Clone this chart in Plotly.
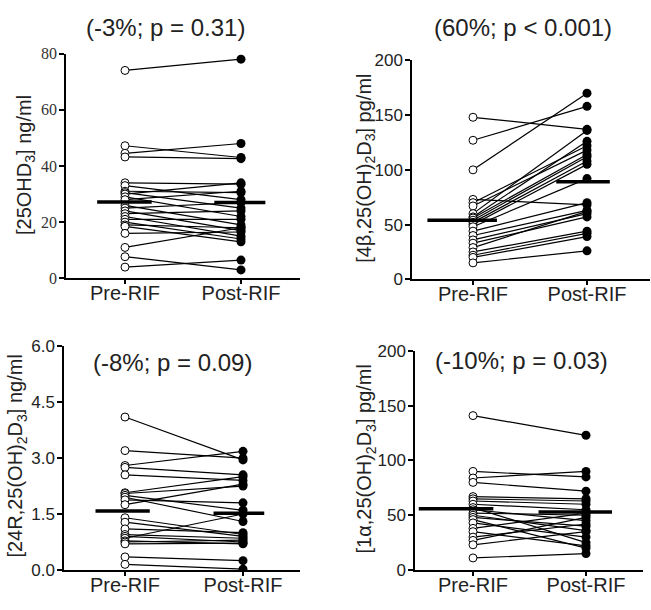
import plotly.graph_objects as go

W, H = 651, 610

categories = ["Pre-RIF", "Post-RIF"]

# Panel A: 25OHD3 (ng/ml)
a_pre = [74, 47.2, 44.5, 43.2, 34, 33, 31, 30.5, 30, 29, 28, 26, 25, 24, 23, 22, 21, 20, 19, 18.5, 16, 11, 7.7, 4]
a_post = [78, 43, 48, 42.6, 33.5, 28, 30.5, 25, 34, 22, 31, 19, 27, 17, 24, 15, 21, 14, 18, 13, 16.5, 18, 3, 6.5]
a_mean = [27.2, 27.0]
a_ticks = [0, 20, 40, 60, 80]

# Panel B: 4beta,25(OH)2D3 (pg/ml)
b_pre = [148, 127, 100, 73, 70, 67, 60, 57, 56, 54, 52, 50, 48, 44, 40, 36, 33, 29, 25, 22, 20, 15]
b_post = [137, 158, 170, 68, 122, 118, 136, 126, 114, 112, 108, 105, 92, 70, 63, 60, 57, 62, 44, 42, 39, 26]
b_mean = [54, 89]
b_ticks = [0, 50, 100, 150, 200]

# Panel C: 24R,25(OH)2D3 (ng/ml)
c_pre = [4.1, 3.2, 2.8, 2.75, 2.55, 2.07, 2.05, 2.0, 1.95, 1.88, 1.75, 1.4, 1.28, 1.1, 0.95, 0.9, 0.85, 0.78, 0.75, 0.7, 0.35, 0.15]
c_post = [2.95, 3.0, 3.18, 2.55, 2.4, 2.5, 2.25, 1.6, 1.3, 1.8, 2.3, 0.95, 0.9, 1.0, 0.85, 0.75, 1.5, 0.7, 0.8, 0.72, 0.25, 0.02]
c_mean = [1.58, 1.52]
c_ticks = [0.0, 1.5, 3.0, 4.5, 6.0]

# Panel D: 1alpha,25(OH)2D3 (pg/ml)
d_pre = [141, 90, 84, 80, 67, 65, 63, 60, 57, 55, 52, 50, 48, 46, 43, 38, 35, 30, 27, 23, 11]
d_post = [123, 85, 90, 72, 65, 63, 60, 55, 25, 45, 50, 36, 40, 20, 30, 52, 22, 42, 48, 35, 15]
d_mean = [56, 53]
d_ticks = [0, 50, 100, 150, 200]

titles = ["(-3%; p = 0.31)", "(60%; p < 0.001)", "(-8%; p = 0.09)", "(-10%; p = 0.03)"]
ytitles = ["[25OHD<sub>3</sub>] ng/ml",
           "[4β,25(OH)<sub>2</sub>D<sub>3</sub>] pg/ml",
           "[24R,25(OH)<sub>2</sub>D<sub>3</sub>] ng/ml",
           "[1α,25(OH)<sub>2</sub>D<sub>3</sub>] pg/ml"]

SANS = "Liberation Sans, Arial, sans-serif"
SERIF = "Liberation Serif, Times New Roman, serif"

panels = [
    dict(pre=a_pre, post=a_post, mean=a_mean, ticks=a_ticks, fmt=None, ymax=80,
         xl=66, xr=300, xp=(125, 241), yt=46, yb=278, bar=(0.24, 0.23, 0.23, 0.21),
         title_xy=(165, 19), ytitle_xy=(26, 161), tickfont=dict(family=SERIF, size=16, color="#333")),
    dict(pre=b_pre, post=b_post, mean=b_mean, ticks=b_ticks, fmt=None, ymax=200,
         xl=412, xr=650, xp=(473, 587), yt=53, yb=279, bar=(0.40, 0.21, 0.27, 0.20),
         title_xy=(523, 19), ytitle_xy=(366, 165), tickfont=dict(family=SANS, size=17, color="#222")),
    dict(pre=c_pre, post=c_post, mean=c_mean, ticks=c_ticks, fmt=".1f", ymax=6,
         xl=64, xr=300, xp=(125, 243), yt=348, yb=579, bar=(0.25, 0.21, 0.25, 0.18),
         title_xy=(173, 365), ytitle_xy=(17, 462), tickfont=dict(family=SANS, size=17, color="#222")),
    dict(pre=d_pre, post=d_post, mean=d_mean, ticks=d_ticks, fmt=None, ymax=200,
         xl=415, xr=643, xp=(473, 586), yt=353, yb=579, bar=(0.48, 0.18, 0.42, 0.23),
         title_xy=(521, 363), ytitle_xy=(366, 465), tickfont=dict(family=SANS, size=17, color="#222")),
]

fig = go.Figure()
layout = dict(width=W, height=H, margin=dict(l=0, r=0, t=0, b=0),
              paper_bgcolor="white", plot_bgcolor="white", showlegend=False,
              annotations=[])

for i, p in enumerate(panels, start=1):
    xa = "x" if i == 1 else f"x{i}"
    ya = "y" if i == 1 else f"y{i}"
    lx, ly = [], []
    for a, b in zip(p["pre"], p["post"]):
        lx += [0, 1, None]
        ly += [a, b, None]
    fig.add_trace(go.Scatter(x=lx, y=ly, mode="lines", line=dict(color="black", width=1.2),
                             xaxis=xa, yaxis=ya, hoverinfo="skip"))
    fig.add_trace(go.Scatter(x=[0] * len(p["pre"]), y=p["pre"], mode="markers",
                             marker=dict(symbol="circle", size=8, color="white",
                                         line=dict(color="black", width=1)),
                             xaxis=xa, yaxis=ya))
    fig.add_trace(go.Scatter(x=[1] * len(p["post"]), y=p["post"], mode="markers",
                             marker=dict(symbol="circle", size=9, color="black",
                                         line=dict(color="black", width=0)),
                             xaxis=xa, yaxis=ya))
    bl0, br0, bl1, br1 = p["bar"]
    fig.add_trace(go.Scatter(x=[0 - bl0, 0 + br0, None, 1 - bl1, 1 + br1],
                             y=[p["mean"][0], p["mean"][0], None, p["mean"][1], p["mean"][1]],
                             mode="lines", line=dict(color="black", width=3.5),
                             xaxis=xa, yaxis=ya, hoverinfo="skip"))

    unit = (p["xp"][1] - p["xp"][0])
    xmin = -(p["xp"][0] - p["xl"]) / unit
    xmax = 1 + (p["xr"] - p["xp"][1]) / unit
    xkey = "xaxis" if i == 1 else f"xaxis{i}"
    ykey = "yaxis" if i == 1 else f"yaxis{i}"
    layout[xkey] = dict(domain=[p["xl"] / W, p["xr"] / W], range=[xmin, xmax],
                        anchor=ya, tickvals=[0, 1], ticktext=categories,
                        showline=True, linecolor="black", linewidth=1.5,
                        ticks="outside", ticklen=4, tickwidth=1.5, tickcolor="black",
                        showgrid=False, zeroline=False, ticklabelstandoff=-8,
                        tickfont=dict(family=SANS, size=20, color="#222"))
    yd = dict(domain=[1 - p["yb"] / H, 1 - p["yt"] / H], range=[0, p["ymax"]],
              anchor=xa, tickvals=p["ticks"], showline=True, linecolor="black",
              linewidth=1.5, ticks="outside", ticklen=5, tickwidth=1.5, tickcolor="black",
              showgrid=False, zeroline=False, tickfont=p["tickfont"], ticklabelstandoff=-1)
    if p["fmt"]:
        yd["tickformat"] = p["fmt"]
    layout[ykey] = yd

    layout["annotations"].append(dict(
        text=titles[i - 1], x=p["title_xy"][0] / W, y=1 - p["title_xy"][1] / H,
        xref="paper", yref="paper", showarrow=False, xanchor="center", yanchor="middle",
        font=dict(family=SANS, size=24, color="#222")))
    layout["annotations"].append(dict(
        text=ytitles[i - 1], x=p["ytitle_xy"][0] / W, y=1 - p["ytitle_xy"][1] / H,
        xref="paper", yref="paper", showarrow=False, xanchor="center", yanchor="middle",
        textangle=-90, font=dict(family=SANS, size=20, color="#222")))

fig.update_layout(**layout)
fig.write_html("out.html", config={"displayModeBar": False},
               post_script="document.body.style.margin='0px';")
